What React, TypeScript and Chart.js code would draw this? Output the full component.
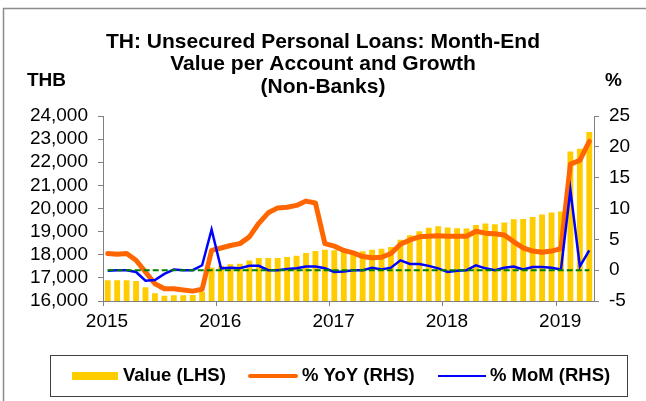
import React, { useEffect, useRef } from "react";
import { Chart, registerables } from "chart.js";

Chart.register(...registerables);

const categories = [
  "Jan-15", "Feb-15", "Mar-15", "Apr-15", "May-15", "Jun-15", "Jul-15", "Aug-15", "Sep-15", "Oct-15", "Nov-15", "Dec-15",
  "Jan-16", "Feb-16", "Mar-16", "Apr-16", "May-16", "Jun-16", "Jul-16", "Aug-16", "Sep-16", "Oct-16", "Nov-16", "Dec-16",
  "Jan-17", "Feb-17", "Mar-17", "Apr-17", "May-17", "Jun-17", "Jul-17", "Aug-17", "Sep-17", "Oct-17", "Nov-17", "Dec-17",
  "Jan-18", "Feb-18", "Mar-18", "Apr-18", "May-18", "Jun-18", "Jul-18", "Aug-18", "Sep-18", "Oct-18", "Nov-18", "Dec-18",
  "Jan-19", "Feb-19", "Mar-19", "Apr-19",
];

// Value per account, THB (LHS)
const valueLHS = [
  16900, 16900, 16900, 16870, 16590, 16330, 16230, 16250, 16250, 16260, 16400, 17450,
  17520, 17590, 17610, 17750, 17860, 17860, 17860, 17900, 17960, 18080, 18160, 18220,
  18190, 18150, 18100, 18150, 18220, 18260, 18340, 18650, 18840, 19020, 19170, 19230,
  19180, 19150, 19140, 19290, 19350, 19320, 19400, 19530, 19550, 19630, 19740, 19830,
  19870, 22470, 22580, 23310,
];

// % YoY (RHS)
const yoyRHS = [
  2.7, 2.6, 2.7, 1.6, -0.3, -2.2, -3.0, -3.0, -3.2, -3.4, -3.1, 3.2,
  3.6, 4.0, 4.3, 5.4, 7.6, 9.3, 10.1, 10.2, 10.5, 11.2, 10.9, 4.3,
  3.9, 3.2, 2.8, 2.2, 2.0, 2.1, 2.7, 4.2, 4.9, 5.4, 5.5, 5.6,
  5.5, 5.5, 5.5, 6.3, 6.0, 5.9, 5.7, 4.6, 3.6, 3.1, 2.9, 3.1,
  3.5, 17.2, 17.8, 20.9,
];

// % MoM (RHS)
const momRHS = [
  -0.1, 0.0, 0.0, -0.3, -1.7, -1.6, -0.6, 0.1, 0.0, 0.0, 0.8, 6.6,
  0.3, 0.4, 0.3, 0.7, 0.7, 0.0, 0.0, 0.2, 0.3, 0.6, 0.6, 0.3,
  -0.3, -0.2, 0.0, 0.0, 0.4, 0.1, 0.4, 1.6, 1.0, 1.0, 0.7, 0.3,
  -0.3, -0.1, 0.0, 0.8, 0.3, 0.0, 0.4, 0.6, 0.1, 0.5, 0.5, 0.4,
  0.1, 13.0, 0.6, 3.2,
];

const zeroRHS = categories.map(() => 0);

const yearLabels = ["2015", "2016", "2017", "2018", "2019"];
const titleLines = [
  "TH: Unsecured Personal Loans: Month-End",
  "Value per Account and Growth",
  "(Non-Banks)",
];
const legendLabels = ["Value (LHS)", "% YoY (RHS)", "% MoM (RHS)"];
const leftUnit = "THB";
const rightUnit = "%";

const FONT = "'Liberation Sans', Arial, Helvetica, sans-serif";
const W = 646;
const H = 401;

// year boundaries (between Dec and Jan categories)
const yearTicks = categories
  .map((c, i) => (c.startsWith("Jan") ? i - 0.5 : null))
  .filter((v) => v !== null) as number[];

const decorPlugin = {
  id: "decor",
  beforeDraw(chart: any) {
    const ctx = chart.ctx as CanvasRenderingContext2D;
    ctx.save();
    ctx.fillStyle = "#ffffff";
    ctx.fillRect(0, 0, W, H);
    ctx.strokeStyle = "#8c8c8c";
    ctx.lineWidth = 1.5;
    ctx.beginPath();
    ctx.moveTo(3.5, H);
    ctx.lineTo(3.5, 8.5);
    ctx.lineTo(W, 8.5);
    ctx.stroke();
    ctx.restore();
  },
  afterDraw(chart: any) {
    const ctx = chart.ctx as CanvasRenderingContext2D;
    ctx.save();
    ctx.fillStyle = "#000";
    ctx.textAlign = "center";
    ctx.textBaseline = "alphabetic";
    ctx.font = `bold 21px ${FONT}`;
    const baselines = [48, 70, 93];
    titleLines.forEach((t, i) => ctx.fillText(t, 323, baselines[i]));

    ctx.font = `bold 19px ${FONT}`;
    ctx.textAlign = "left";
    ctx.fillText(leftUnit, 27, 86);
    ctx.fillText(rightUnit, 605, 86);

    // legend
    ctx.strokeStyle = "#404040";
    ctx.lineWidth = 1;
    ctx.strokeRect(50.5, 355.5, 577, 41);
    const ly = 376;
    ctx.fillStyle = "#FFCC00";
    ctx.fillRect(72, 372, 46, 8);
    ctx.lineCap = "round";
    ctx.strokeStyle = "#FF6600";
    ctx.lineWidth = 4;
    ctx.beginPath();
    ctx.moveTo(250, ly);
    ctx.lineTo(296, ly);
    ctx.stroke();
    ctx.strokeStyle = "#0000FF";
    ctx.lineWidth = 2;
    ctx.lineCap = "butt";
    ctx.beginPath();
    ctx.moveTo(438, ly);
    ctx.lineTo(486, ly);
    ctx.stroke();
    ctx.fillStyle = "#000";
    ctx.font = `bold 18.5px ${FONT}`;
    ctx.textBaseline = "middle";
    ctx.fillText(legendLabels[0], 123, ly);
    ctx.fillText(legendLabels[1], 302, ly);
    ctx.fillText(legendLabels[2], 490, ly);
    ctx.restore();
  },
};

export default function App() {
  const ref = useRef<HTMLCanvasElement | null>(null);

  useEffect(() => {
    if (!ref.current) return;
    const axisGrid = {
      drawOnChartArea: false,
      drawTicks: true,
      tickLength: 5,
      color: "#808080",
      lineWidth: 1,
      offset: false,
    };
    const axisBorder = { display: true, color: "#808080", width: 1 };
    const tickFont = { family: FONT, size: 19 };

    const chart = new Chart(ref.current, {
      type: "bar",
      data: {
        labels: categories,
        datasets: [
          {
            type: "line",
            label: "zero",
            data: zeroRHS,
            yAxisID: "y2",
            xAxisID: "x",
            borderColor: "#008000",
            borderWidth: 2,
            borderDash: [6, 3],
            pointRadius: 0,
            tension: 0,
            order: 1,
          } as any,
          {
            type: "line",
            label: legendLabels[2],
            data: momRHS,
            yAxisID: "y2",
            xAxisID: "x",
            borderColor: "#0000FF",
            borderWidth: 2.5,
            pointRadius: 0,
            tension: 0,
            order: 2,
          } as any,
          {
            type: "line",
            label: legendLabels[1],
            data: yoyRHS,
            yAxisID: "y2",
            xAxisID: "x",
            borderColor: "#FF6600",
            borderWidth: 5,
            borderJoinStyle: "round",
            borderCapStyle: "round",
            pointRadius: 0,
            tension: 0,
            order: 3,
          } as any,
          {
            type: "bar",
            label: legendLabels[0],
            data: valueLHS,
            yAxisID: "y",
            xAxisID: "x",
            backgroundColor: "#FFCC00",
            barPercentage: 0.62,
            categoryPercentage: 1.0,
            order: 4,
          } as any,
        ],
      },
      options: {
        responsive: false,
        animation: false,
        devicePixelRatio: 1,
        layout: { padding: { top: 116, left: 0, right: 0, bottom: 0 } },
        plugins: {
          legend: { display: false },
          tooltip: { enabled: false },
          title: { display: false },
        },
        scales: {
          x: { type: "category", display: false, offset: true },
          xt: {
            type: "linear",
            position: "bottom",
            offset: false,
            bounds: "data",
            min: -0.5,
            max: categories.length - 0.5,
            afterBuildTicks: (s: any) => {
              s.ticks = yearTicks.map((v) => ({ value: v }));
            },
            afterFit: (s: any) => {
              s.height = 100;
            },
            ticks: {
              callback: (v: any) => {
                const idx = yearTicks.indexOf(Number(v));
                return idx >= 0 ? yearLabels[idx] : "";
              },
              font: tickFont,
              color: "#000",
              padding: 4,
              labelOffset: 4,
              maxRotation: 0,
              autoSkip: false,
            },
            grid: axisGrid,
            border: axisBorder,
          },
          y: {
            position: "left",
            min: 16000,
            max: 24000,
            ticks: {
              stepSize: 1000,
              autoSkip: false,
              callback: (v: any) => Number(v).toLocaleString("en-US"),
              font: tickFont,
              color: "#000",
              padding: 10,
            },
            grid: axisGrid,
            border: axisBorder,
            afterFit: (s: any) => {
              s.width = 103;
            },
          },
          y2: {
            position: "right",
            min: -5,
            max: 25,
            ticks: {
              stepSize: 5,
              autoSkip: false,
              font: tickFont,
              color: "#000",
              padding: 10,
            },
            grid: axisGrid,
            border: axisBorder,
            afterFit: (s: any) => {
              s.width = 52;
            },
          },
        },
      } as any,
      plugins: [decorPlugin],
    });
    return () => chart.destroy();
  }, []);

  return (
    <div style={{ position: "absolute", left: 0, top: 0, width: W, height: H, background: "#fff" }}>
      <canvas ref={ref} width={W} height={H} style={{ display: "block", width: W, height: H }} />
    </div>
  );
}
